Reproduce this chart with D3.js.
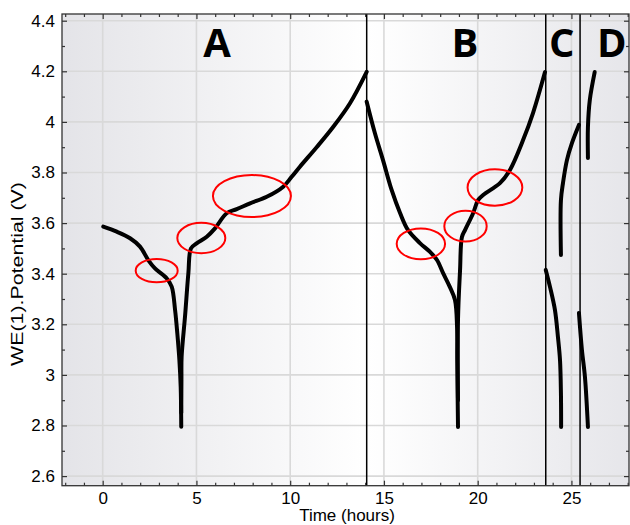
<!DOCTYPE html>
<html lang="en">
<head>
    <meta charset="UTF-8">
    <title>WE(1) Potential vs Time</title>
    <script src="https://cdn.jsdelivr.net/npm/d3@7/dist/d3.min.js"></script>
    <style>
        body { margin: 0; background: #fff; }
        svg { display: block; }
        .tick text { font-family: 'Liberation Sans', Arial, sans-serif; font-size: 17px; fill: #000; }
        .axis-title { font-family: 'Liberation Sans', Arial, sans-serif; font-size: 17px; fill: #000; }
        .region-label { font-family: 'Open Sans', 'Liberation Sans', sans-serif; font-size: 40px; font-weight: 700; fill: #000; }
    </style>
</head>
<body>
<script>
    // cycle segments: [time (hours), potential (V)]
    const dischargeA = [[0.03, 3.586], [0.75, 3.566], [1.46, 3.540], [1.99, 3.507], [2.43, 3.454], [2.79, 3.421],
        [3.41, 3.382], [3.68, 3.349], [3.86, 3.257], [3.98, 3.164], [4.09, 3.059], [4.16, 2.953], [4.19, 2.795]];
    const chargeA = [[4.19, 2.85], [4.20, 2.98], [4.21, 3.072], [4.39, 3.230], [4.57, 3.402], [4.71, 3.500],
        [5.01, 3.520], [5.55, 3.546], [5.99, 3.579], [6.61, 3.639], [7.15, 3.655], [7.86, 3.678], [8.75, 3.704],
        [9.63, 3.744], [10.08, 3.783], [10.52, 3.823], [11.41, 3.900], [12.30, 3.981], [13.19, 4.074], [14.08, 4.198]];
    const dischargeB = [[14.08, 4.080], [14.52, 3.955], [14.95, 3.849], [15.41, 3.731], [15.86, 3.640], [16.28, 3.573],
        [16.92, 3.521], [17.46, 3.486], [17.83, 3.454], [18.15, 3.403], [18.52, 3.347], [18.79, 3.296],
        [18.90, 3.189], [18.91, 3.059], [18.95, 2.794]];
    const chargeB = [[18.95, 2.90], [18.95, 3.217], [19.06, 3.415], [19.16, 3.545], [19.33, 3.573], [19.76, 3.640],
        [20.02, 3.691], [20.29, 3.711], [21.20, 3.759], [21.72, 3.810], [22.42, 3.928], [22.95, 4.035], [23.59, 4.197]];
    const dischargeC = [[23.63, 3.415], [23.86, 3.347], [24.12, 3.257], [24.28, 3.150], [24.39, 3.059], [24.44, 2.928], [24.45, 2.794]];
    const chargeC = [[24.44, 3.474], [24.44, 3.691], [24.55, 3.759], [24.76, 3.849], [25.03, 3.917], [25.40, 3.988]];
    const dischargeD = [[25.40, 3.245], [25.56, 3.098], [25.72, 2.992], [25.88, 2.794]];
    const chargeD = [[25.88, 3.857], [25.88, 3.980], [25.98, 4.087], [26.24, 4.197]];

    const segments = [dischargeA, chargeA, dischargeB, chargeB, dischargeC, chargeC, dischargeD, chargeD];

    // step boundaries (hours)
    const boundaries = [14.08, 23.63, 25.46];

    // region letters and where they sit (time, potential)
    const regionNames = ["A", "B", "C", "D"];
    const regionTimes = [6.10, 19.32, 24.48, 27.15];
    const regionPotential = 4.258;

    // red highlight ellipses: [time, potential, half-width (h), half-height (V)]
    const highlights = [[2.88, 3.412, 1.12, 0.046], [5.26, 3.541, 1.28, 0.060], [7.96, 3.707, 2.08, 0.083],
        [16.97, 3.518, 1.29, 0.061], [19.35, 3.588, 1.13, 0.061], [20.92, 3.741, 1.46, 0.072]];

    const xTicks = [0, 5, 10, 15, 20, 25];
    const yTicks = [2.6, 2.8, 3.0, 3.2, 3.4, 3.6, 3.8, 4.0, 4.2, 4.4];
    const yTickLabels = ["2.6", "2.8", "3", "3.2", "3.4", "3.6", "3.8", "4", "4.2", "4.4"];

    const W = 630, H = 525;
    const margin = {top: 14, right: 1, bottom: 39.3, left: 62};
    const width = W - margin.left - margin.right,
          height = H - margin.top - margin.bottom;

    const x = d3.scaleLinear().domain([-2.17, 28.07]).range([0, width]);
    const y = d3.scaleLinear().domain([2.562, 4.4265]).range([height, 0]);

    const svg = d3.select("body").append("svg")
        .attr("width", W)
        .attr("height", H);

    const defs = svg.append("defs");
    const grad = defs.append("linearGradient").attr("id", "bg").attr("x1", "0%").attr("x2", "100%");
    grad.append("stop").attr("offset", "0%").attr("stop-color", "#e4e4e8");
    grad.append("stop").attr("offset", "54%").attr("stop-color", "#ffffff");
    grad.append("stop").attr("offset", "100%").attr("stop-color", "#e6e6ea");
    defs.append("clipPath").attr("id", "clip").append("rect").attr("width", width).attr("height", height);

    const g = svg.append("g").attr("transform", `translate(${margin.left},${margin.top})`);

    g.append("rect").attr("width", width).attr("height", height).attr("fill", "url(#bg)");

    // grid
    g.append("g").selectAll("line").data(xTicks).join("line")
        .attr("x1", d => x(d)).attr("x2", d => x(d)).attr("y1", 0).attr("y2", height)
        .attr("stroke", "#d9d9d9").attr("stroke-width", 1.6);
    g.append("g").selectAll("line").data(yTicks).join("line")
        .attr("y1", d => y(d)).attr("y2", d => y(d)).attr("x1", 0).attr("x2", width)
        .attr("stroke", "#d9d9d9").attr("stroke-width", 1.6);

    // minor ticks
    const xMinor = d3.range(-2, 29, 1).filter(d => d % 5 !== 0);
    const yMinor = d3.range(2.7, 4.41, 0.2).map(d => +d.toFixed(1));

    function styleAxis(sel) {
        sel.select(".domain").remove();
        sel.selectAll(".tick line").attr("stroke", "#333").attr("stroke-width", 1.2);
    }

    g.append("g").attr("transform", `translate(0,${height})`)
        .call(d3.axisBottom(x).tickValues(xTicks).tickSize(-5).tickPadding(6).tickFormat(d3.format("d")))
        .call(styleAxis);
    g.append("g").attr("transform", `translate(0,${height})`)
        .call(d3.axisBottom(x).tickValues(xMinor).tickSize(-3).tickFormat(""))
        .call(styleAxis);
    g.append("g")
        .call(d3.axisTop(x).tickValues(xTicks).tickSize(-5).tickFormat(""))
        .call(styleAxis);
    g.append("g")
        .call(d3.axisTop(x).tickValues(xMinor).tickSize(-3).tickFormat(""))
        .call(styleAxis);

    g.append("g")
        .call(d3.axisLeft(y).tickValues(yTicks).tickSize(-5).tickPadding(7).tickFormat((d, i) => yTickLabels[i]))
        .call(styleAxis);
    g.append("g")
        .call(d3.axisLeft(y).tickValues(yMinor).tickSize(-3).tickFormat(""))
        .call(styleAxis);
    g.append("g").attr("transform", `translate(${width},0)`)
        .call(d3.axisRight(y).tickValues(yTicks).tickSize(-5).tickFormat(""))
        .call(styleAxis);
    g.append("g").attr("transform", `translate(${width},0)`)
        .call(d3.axisRight(y).tickValues(yMinor).tickSize(-3).tickFormat(""))
        .call(styleAxis);

    const plot = g.append("g").attr("clip-path", "url(#clip)");

    // boundaries between steps
    plot.selectAll(".boundary").data(boundaries).join("line")
        .attr("class", "boundary")
        .attr("x1", d => x(d)).attr("x2", d => x(d)).attr("y1", 0).attr("y2", height)
        .attr("stroke", "#000").attr("stroke-width", 1.5);

    // potential curves
    const line = d3.line()
        .x(d => x(d[0]))
        .y(d => y(d[1]))
        .curve(d3.curveCatmullRom.alpha(0.5));

    plot.selectAll(".curve").data(segments).join("path")
        .attr("class", "curve")
        .attr("d", line)
        .attr("fill", "none")
        .attr("stroke", "#000")
        .attr("stroke-width", 4)
        .attr("stroke-linecap", "round")
        .attr("stroke-linejoin", "round");

    // highlight ellipses
    plot.selectAll(".hl").data(highlights).join("ellipse")
        .attr("class", "hl")
        .attr("cx", d => x(d[0]))
        .attr("cy", d => y(d[1]))
        .attr("rx", d => x(d[2]) - x(0))
        .attr("ry", d => y(0) - y(d[3]))
        .attr("fill", "none")
        .attr("stroke", "#ff0000")
        .attr("stroke-width", 2);

    // region letters
    g.selectAll(".region-label").data(regionNames).join("text")
        .attr("class", "region-label")
        .attr("x", (d, i) => x(regionTimes[i]))
        .attr("y", y(regionPotential))
        .attr("text-anchor", "middle")
        .text(d => d);

    // frame
    g.append("rect").attr("width", width).attr("height", height)
        .attr("fill", "none").attr("stroke", "#333").attr("stroke-width", 1.3);

    // axis titles
    svg.append("text").attr("class", "axis-title")
        .attr("text-anchor", "middle")
        .attr("x", 347)
        .attr("y", 521)
        .text("Time (hours)");

    svg.append("text").attr("class", "axis-title")
        .attr("text-anchor", "middle")
        .attr("transform", `translate(23,274) rotate(-90)`)
        .attr("textLength", 184)
        .attr("lengthAdjust", "spacingAndGlyphs")
        .text("WE(1).Potential (V)");
</script>
</body>
</html>
